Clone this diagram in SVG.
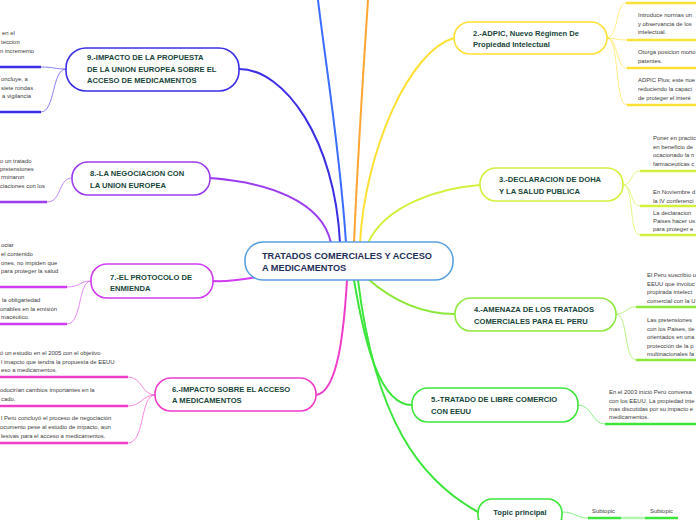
<svg xmlns="http://www.w3.org/2000/svg" width="696" height="520" viewBox="0 0 696 520">
<style>
.node{fill:#ffffff;stroke-width:1.6}
.t{font-family:"Liberation Sans",Arial,sans-serif;font-weight:bold;font-size:7.6px;fill:#17463a}
.ct{font-family:"Liberation Sans",Arial,sans-serif;font-weight:bold;font-size:9.2px;fill:#1f2f5a}
.s{font-family:"Liberation Sans",Arial,sans-serif;font-size:5.9px;fill:#3c3c3c}
.m{fill:none;stroke-width:2;stroke-linecap:round}
.l{fill:none;stroke-width:1;opacity:0.6}
.u{fill:none;stroke-width:2.4}
</style>
<rect width="696" height="520" fill="#ffffff"/>
<g id="connectors">
  <path class="m" d="M239,69 C285,69 335,140 340,243" stroke="#3c2ee6"/>
  <path class="m" d="M210,178 C265,182 322,200 331,243" stroke="#9b3cf0"/>
  <path class="m" d="M213,281 C232,282 245,279 258,277" stroke="#d23cf0"/>
  <path class="m" d="M316,395 C338,392 344,330 347,280" stroke="#f03cc8"/>
  <path class="m" d="M354,280 C365,345 380,405 412,405" stroke="#3ce63c"/>
  <path class="m" d="M358,280 C375,420 420,480 478,512" stroke="#3ce63c"/>
  <path class="m" d="M368,279 C392,300 420,314 455,314" stroke="#8ee83c"/>
  <path class="m" d="M480,185 C440,188 385,205 368,243" stroke="#d4f03c"/>
  <path class="m" d="M454,38 C410,50 365,150 360,243" stroke="#ffe135"/>
  <path class="m" d="M346,243 C340,150 325,60 318,0" stroke="#3a6cff"/>
  <path class="m" d="M354,243 C358,150 364,60 368,0" stroke="#ffa532"/>
  <path class="l" d="M41,67 C54,67 54,69 66,69" stroke="#3c2ee6"/>
  <path class="l" d="M41,112 C55,112 52,69 66,69" stroke="#3c2ee6"/>
  <path class="u" d="M0,67 H41 M0,112 H41" stroke="#3c2ee6"/>
  <path class="l" d="M47,202 C62,202 58,178 72,178" stroke="#9b3cf0"/>
  <path class="u" d="M0,202 H47" stroke="#9b3cf0"/>
  <path class="l" d="M67,287 C80,287 80,281 91,281" stroke="#d23cf0"/>
  <path class="l" d="M67,324 C82,324 78,281 91,281" stroke="#d23cf0"/>
  <path class="u" d="M0,287 H67 M0,324 H67" stroke="#d23cf0"/>
  <path class="l" d="M128,377 C142,377 142,395 155,395" stroke="#f03cc8"/>
  <path class="l" d="M128,406 C142,406 142,395 155,395" stroke="#f03cc8"/>
  <path class="l" d="M128,443 C145,443 140,395 155,395" stroke="#f03cc8"/>
  <path class="u" d="M0,377 H128 M0,406 H128 M0,443 H128" stroke="#f03cc8"/>
  <path class="l" d="M607,38 C618,38 616,3 626,3" stroke="#ffe135"/>
  <path class="l" d="M607,38 C616,38 617,40 627,40" stroke="#ffe135"/>
  <path class="l" d="M607,38 C618,38 616,68 627,68" stroke="#ffe135"/>
  <path class="l" d="M607,38 C620,38 614,105 627,105" stroke="#ffe135"/>
  <path class="u" d="M626,3 H696 M627,40 H696 M627,68 H696 M627,105 H696" stroke="#ffe135"/>
  <path class="l" d="M623,185 C633,185 630,171 640,171" stroke="#d4f03c"/>
  <path class="l" d="M623,185 C633,185 630,206 640,206" stroke="#d4f03c"/>
  <path class="l" d="M623,185 C635,185 628,235 640,235" stroke="#d4f03c"/>
  <path class="u" d="M640,171 H696 M640,206 H696 M640,235 H696" stroke="#d4f03c"/>
  <path class="l" d="M616,314 C627,314 625,307 636,307" stroke="#8ee83c"/>
  <path class="l" d="M616,314 C628,314 624,360 636,360" stroke="#8ee83c"/>
  <path class="u" d="M636,307 H696 M636,360 H696" stroke="#8ee83c"/>
  <path class="l" d="M578,405 C592,405 592,424 605,424" stroke="#3ce63c"/>
  <path class="u" d="M605,424 H696" stroke="#3ce63c"/>
  <path class="l" d="M562,512 C575,512 576,518 588,518" stroke="#3ce63c"/>
  <path class="u" d="M588,518 H621 M645,518 H678" stroke="#3ce63c"/>
  <path class="u" d="M621,518 H645" stroke="#3ce63c" opacity="0.4"/>
</g>
<g id="center">
  <rect class="node" x="245" y="242" width="208" height="38" rx="18" stroke="#5aa0e0"/>
  <text class="ct" x="262" y="259">TRATADOS COMERCIALES Y ACCESO</text>
  <text class="ct" x="262" y="271">A MEDICAMENTOS</text>
</g>
<g id="node9">
  <rect class="node" x="66" y="48" width="173" height="43" rx="20" stroke="#3c2ee6"/>
  <text class="t" x="87" y="60">9.-IMPACTO DE LA PROPUESTA</text>
  <text class="t" x="87" y="72">DE LA UNION EUROPEA SOBRE  EL</text>
  <text class="t" x="87" y="83">ACCESO DE MEDICAMENTOS</text>
  <text class="s" x="2" y="35">en el</text>
  <text class="s" x="1" y="44">teccion</text>
  <text class="s" x="0" y="53">n incremento</text>
  <text class="s" x="1" y="81">oncluye, a</text>
  <text class="s" x="1" y="90">siete rondas</text>
  <text class="s" x="2" y="98">a vigilancia</text>
</g>
<g id="node8">
  <rect class="node" x="72" y="162" width="138" height="33" rx="16" stroke="#9b3cf0"/>
  <text class="t" x="90" y="176">8.-LA NEGOCIACION CON</text>
  <text class="t" x="90" y="188">LA UNION EUROPEA</text>
  <text class="s" x="0" y="163">o un tratado</text>
  <text class="s" x="0" y="171">pretensiones</text>
  <text class="s" x="1" y="179">rminaron</text>
  <text class="s" x="0" y="188">ciaciones con los</text>
</g>
<g id="node7">
  <rect class="node" x="91" y="264" width="122" height="34" rx="16" stroke="#d23cf0"/>
  <text class="t" x="110" y="280">7.-EL PROTOCOLO DE</text>
  <text class="t" x="110" y="291">ENMIENDA</text>
  <text class="s" x="1" y="247">ociar</text>
  <text class="s" x="1" y="256">el contenido</text>
  <text class="s" x="1" y="264.5">ones, no impiden que</text>
  <text class="s" x="1" y="273">para proteger la salud</text>
  <text class="s" x="2" y="302">la obligariedad</text>
  <text class="s" x="0" y="310.5">onables en la emisión</text>
  <text class="s" x="1" y="319">macéutico.</text>
</g>
<g id="node6">
  <rect class="node" x="155" y="378" width="161" height="33" rx="16" stroke="#f03cc8"/>
  <text class="t" x="172" y="392">6.-IMPACTO SOBRE EL ACCESO</text>
  <text class="t" x="172" y="403">A MEDICAMENTOS</text>
  <text class="s" x="0" y="355">ó un estudio en el 2005 con el objetivo</text>
  <text class="s" x="1" y="363.5">l imapcto que tendra la propuesta de EEUU</text>
  <text class="s" x="1" y="372">eso a medicamentos.</text>
  <text class="s" x="0" y="392">oducirían cambios importantes en la</text>
  <text class="s" x="1" y="401">cado.</text>
  <text class="s" x="1" y="420">l Peru concluyó el proceso de negociación</text>
  <text class="s" x="0" y="429">ocumento pese al estudio de impacto, aun</text>
  <text class="s" x="1" y="437.5">lesivas para el acceso a medicamentos.</text>
</g>
<g id="node2">
  <rect class="node" x="454" y="22" width="153" height="32" rx="16" stroke="#ffe135"/>
  <text class="t" x="473" y="36">2.-ADPIC, Nuevo Régimen De</text>
  <text class="t" x="473" y="47">Propiedad Intelectual</text>
  <text class="s" x="638" y="17">Introduce normas un</text>
  <text class="s" x="638" y="25.5">y observancia de los</text>
  <text class="s" x="638" y="34">intelectual.</text>
  <text class="s" x="638" y="54">Otorga posicion mono</text>
  <text class="s" x="638" y="63">patentes.</text>
  <text class="s" x="638" y="82">ADPIC Plus; este nue</text>
  <text class="s" x="638" y="91">reduciendo la capaci</text>
  <text class="s" x="638" y="99.5">de proteger el interé</text>
</g>
<g id="node3">
  <rect class="node" x="480" y="168" width="143" height="33" rx="16" stroke="#d4f03c"/>
  <text class="t" x="499" y="182">3.-DECLARACION DE DOHA</text>
  <text class="t" x="499" y="194">Y LA SALUD PUBLICA</text>
  <text class="s" x="653" y="140">Poner en practic</text>
  <text class="s" x="653" y="148.5">en beneficio de</text>
  <text class="s" x="653" y="157">ocacionado la n</text>
  <text class="s" x="653" y="165.5">farmaceuticas c</text>
  <text class="s" x="653" y="194">En Noviembre d</text>
  <text class="s" x="653" y="202.5">la IV conferenci</text>
  <text class="s" x="653" y="215">La declaracion</text>
  <text class="s" x="653" y="223">Paises hacer us</text>
  <text class="s" x="653" y="231">para proteger e</text>
</g>
<g id="node4">
  <rect class="node" x="455" y="298" width="161" height="33" rx="16" stroke="#8ee83c"/>
  <text class="t" x="474" y="312">4.-AMENAZA DE LOS TRATADOS</text>
  <text class="t" x="474" y="324">COMERCIALES PARA EL PERU</text>
  <text class="s" x="647" y="277">El Peru suscribio u</text>
  <text class="s" x="647" y="285.5">EEUU que involuc</text>
  <text class="s" x="647" y="294">propirada intelect</text>
  <text class="s" x="647" y="302.5">comercial con la U</text>
  <text class="s" x="647" y="322">Las pretensiones</text>
  <text class="s" x="647" y="330.5">con los Paises, tie</text>
  <text class="s" x="647" y="339">orientados en una</text>
  <text class="s" x="647" y="347.5">protección de la p</text>
  <text class="s" x="647" y="356">multinacionales fa</text>
</g>
<g id="node5">
  <rect class="node" x="412" y="388" width="166" height="34" rx="16" stroke="#3ce63c"/>
  <text class="t" x="431" y="402">5.-TRATADO DE LIBRE COMERCIO</text>
  <text class="t" x="431" y="414">CON EEUU</text>
  <text class="s" x="609" y="394">En el 2003 inició Perú conversa</text>
  <text class="s" x="609" y="402.5">con los EEUU. La propiedad inte</text>
  <text class="s" x="609" y="411">mas discutidas por su impacto e</text>
  <text class="s" x="609" y="419">medicamentos.</text>
</g>
<g id="topic">
  <rect class="node" x="478" y="499" width="84" height="30" rx="14" stroke="#3ce63c"/>
  <text class="t" x="520" y="515" text-anchor="middle" font-size="8.6">Topic principal</text>
  <text class="s" x="592" y="513">Subtopic</text>
  <text class="s" x="650" y="513">Subtopic</text>
</g>
</svg>
